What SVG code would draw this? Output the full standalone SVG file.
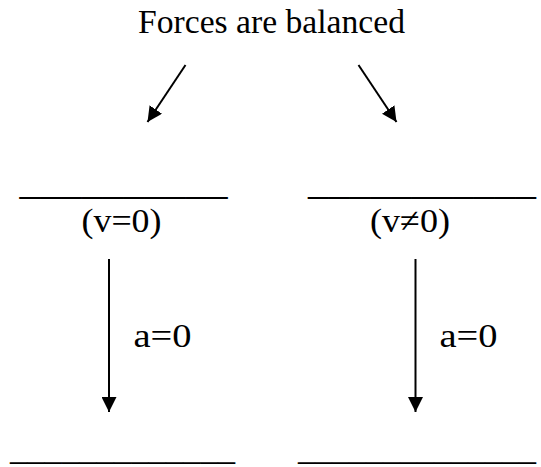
<svg xmlns="http://www.w3.org/2000/svg" width="541" height="467" viewBox="0 0 541 467">
<style>
text{font-family:"Liberation Serif","DejaVu Serif",serif;fill:#000}
.t{font-size:34px}
.l{font-size:34px}
.u{font-size:40px}
.b{font-size:34px}
.c{stroke:#000;stroke-width:2;fill:none}
</style>
<defs>
<marker id="ah" viewBox="0 0 10 10" refX="10" refY="5" markerWidth="7.5" markerHeight="7.5" orient="auto" markerUnits="strokeWidth">
<path d="M0,0L10,5L0,10z" fill="#000"/>
</marker>
</defs>
<rect width="541" height="467" fill="#fff"/>
<g id="title"><text class="t" x="271.5" y="33" text-anchor="middle" textLength="267" lengthAdjust="spacingAndGlyphs">Forces are balanced</text></g>
<g id="left-state">
<text class="u" x="19.5" y="194" textLength="208" lengthAdjust="spacingAndGlyphs">__________</text>
<text class="l" x="121.5" y="232" text-anchor="middle" textLength="80" lengthAdjust="spacingAndGlyphs">(v=0)</text>
</g>
<g id="right-state">
<text class="u" x="308" y="194" textLength="228" lengthAdjust="spacingAndGlyphs">___________</text>
<text class="l" x="410" y="232" text-anchor="middle" textLength="80" lengthAdjust="spacingAndGlyphs">(v≠0)</text>
</g>
<g id="left-result"><text class="b" x="10" y="459.5" textLength="225" lengthAdjust="spacingAndGlyphs">_____________</text></g>
<g id="right-result"><text class="b" x="298" y="459.5" textLength="238" lengthAdjust="spacingAndGlyphs">______________</text></g>
<g id="connectors">
<line class="c" x1="185.5" y1="65" x2="147.5" y2="122" marker-end="url(#ah)"/>
<line class="c" x1="358.5" y1="65" x2="396.5" y2="122" marker-end="url(#ah)"/>
<line class="c" x1="109" y1="259" x2="109" y2="412" marker-end="url(#ah)"/>
<line class="c" x1="415.5" y1="259" x2="415.5" y2="412" marker-end="url(#ah)"/>
<text class="l" x="133.5" y="347" textLength="58" lengthAdjust="spacingAndGlyphs">a=0</text>
<text class="l" x="439.5" y="347" textLength="58" lengthAdjust="spacingAndGlyphs">a=0</text>
</g>
</svg>
